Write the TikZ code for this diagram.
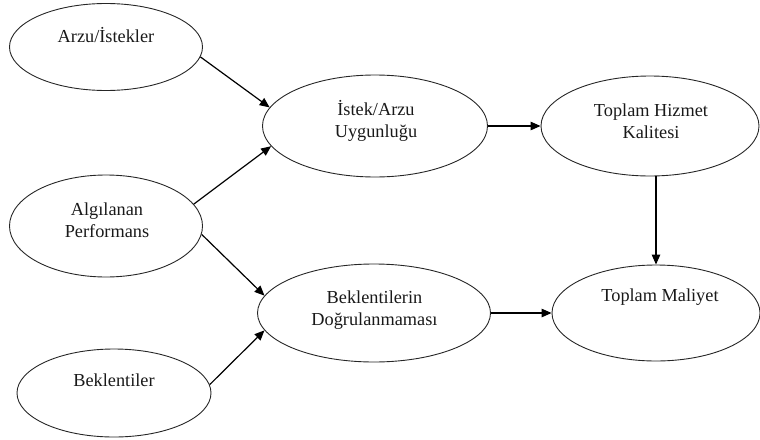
\documentclass[tikz,border=0pt]{standalone}
\usepackage{fontspec}
\setmainfont{Liberation Serif}
\usetikzlibrary{shapes.geometric,arrows.meta}

\tikzset{
  oval/.style={ellipse, draw=black!85, line width=0.9pt, inner sep=0pt},
  lbl/.style={font=\fontsize{18.3}{22}\selectfont, align=center, text=black!90, inner sep=0pt},
  flow/.style={line width=1.2pt, -{Triangle[length=10pt,width=8.5pt]}}
}

\begin{document}
\begin{tikzpicture}[x=1pt, y=-1pt]
  \useasboundingbox (0,0) rectangle (760,439);

  % ellipses
  \node[oval, minimum width=193pt, minimum height=87pt]  (arzu) at (106,47)  {};
  \node[oval, minimum width=193pt, minimum height=102pt] (alg)  at (106,226) {};
  \node[oval, minimum width=194pt, minimum height=88pt]  (bek)  at (114,393) {};
  \node[oval, minimum width=225pt, minimum height=102pt] (uyg)  at (375,126) {};
  \node[oval, minimum width=233pt, minimum height=98pt]  (dog)  at (374,313) {};
  \node[oval, minimum width=218pt, minimum height=100pt] (hiz)  at (650,126) {};
  \node[oval, minimum width=208pt, minimum height=96pt]  (mal)  at (656,313) {};

  % labels (base anchor sits on the last line's baseline)
  \node[lbl, anchor=base] (arzuT) at (106,42)  {Arzu/İstekler};
  \node[lbl, anchor=base] (algT)  at (107,237) {Algılanan\\Performans};
  \node[lbl, anchor=base] (bekT)  at (114,386) {Beklentiler};
  \node[lbl, anchor=base] (uygT)  at (376,137) {İstek/Arzu\\Uygunluğu};
  \node[lbl, anchor=base] (dogT)  at (374.5,325) {Beklentilerin\\Doğrulanmaması};
  \node[lbl, anchor=base] (hizT)  at (651,138) {Toplam Hizmet\\Kalitesi};
  \node[lbl, anchor=base] (malT)  at (660,301) {Toplam Maliyet};

  % connectors
  \draw[flow] (arzu.-6) -- (uyg.170);
  \draw[flow] (alg.14)  -- (uyg.191);
  \draw[flow] (alg.-5)  -- (dog.171);
  \draw[flow] (bek.5)   -- (dog.189);
  \draw[flow] (uyg) -- (hiz);
  \draw[flow] (dog) -- (mal);
  \draw[flow] (mal.north |- hiz.south) -- (mal.north);
\end{tikzpicture}
\end{document}
